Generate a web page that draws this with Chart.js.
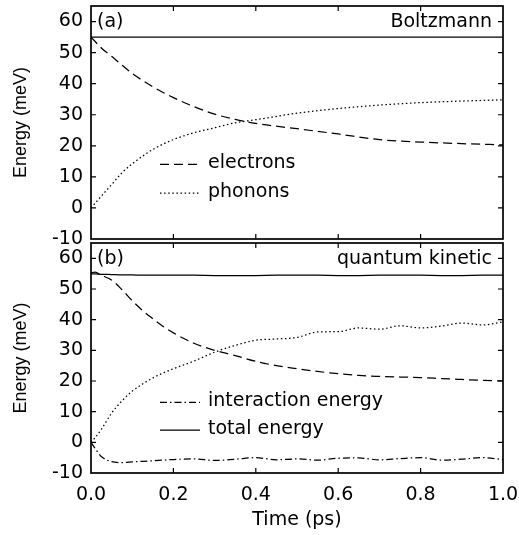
<!DOCTYPE html>
<html><head><meta charset="utf-8">
<script src="https://cdn.jsdelivr.net/npm/chart.js@4/dist/chart.umd.min.js"></script>
<style>
html,body{margin:0;padding:0;background:#fff;}
#wrap{position:relative;width:519px;height:535px;}
#wrap canvas{position:absolute;left:0;top:0;}
</style></head>
<body><div id="wrap"><canvas id="ca" width="519" height="535"></canvas><canvas id="cb" width="519" height="535"></canvas></div>
<script>
// Panel (a): Boltzmann
const timeA = [0, 0.025, 0.05, 0.075, 0.1, 0.15, 0.2, 0.25, 0.3, 0.35, 0.4, 0.5, 0.6, 0.7, 0.8, 0.9, 1.0];
const electronsA = [55, 51.5, 48.8, 46.0, 43.3, 39.0, 35.5, 32.6, 30.2, 28.5, 27.2, 25.5, 23.8, 22.0, 21.2, 20.7, 20.3];
const phononsA = [0, 3.8, 7.5, 11.3, 14.2, 18.8, 22.0, 24.2, 25.8, 27.4, 28.4, 30.5, 32.0, 33.1, 33.9, 34.4, 34.8];
const totalA = [55, 55, 55, 55, 55, 55, 55, 55, 55, 55, 55, 55, 55, 55, 55, 55, 55];

// Panel (b): quantum kinetic
const timeB = [0, 0.01, 0.025, 0.05, 0.075, 0.1, 0.125, 0.15, 0.175, 0.2, 0.25, 0.3, 0.35, 0.4, 0.45, 0.5, 0.55, 0.6, 0.65, 0.7, 0.75, 0.8, 0.85, 0.9, 0.95, 1.0];
const electronsB = [55.3, 55.5, 54.5, 52.9, 49.8, 46.2, 43.0, 40.3, 37.8, 35.7, 32.3, 30.0, 28.3, 26.4, 25.0, 24.0, 23.1, 22.4, 21.8, 21.5, 21.3, 21.1, 20.8, 20.5, 20.2, 20.0];
const phononsB = [0, 1.5, 4.2, 9.5, 13.5, 16.7, 19.0, 21.0, 22.6, 24.0, 26.5, 29.4, 31.6, 33.3, 33.7, 34.2, 36.0, 36.1, 37.3, 36.9, 38.0, 37.3, 37.9, 38.9, 38.3, 39.3];
const interactionB = [0, -2.0, -4.6, -6.3, -6.6, -6.4, -6.2, -6.0, -5.8, -5.6, -5.4, -5.9, -5.5, -5.0, -5.7, -5.4, -5.8, -5.2, -5.1, -5.7, -5.3, -5.0, -5.8, -5.5, -5.0, -5.6];
const totalB = [55.0, 54.9, 54.8, 54.7, 54.6, 54.6, 54.5, 54.5, 54.5, 54.5, 54.5, 54.4, 54.4, 54.4, 54.5, 54.5, 54.5, 54.4, 54.4, 54.5, 54.5, 54.5, 54.4, 54.4, 54.5, 54.5];

const xTicks = [0.0, 0.2, 0.4, 0.6, 0.8, 1.0];
const yTicks = [-10, 0, 10, 20, 30, 40, 50, 60];
const xTitle = 'Time (ps)';
const yTitle = 'Energy (meV)';

const FONT = '"DejaVu Sans", sans-serif';
const FONT_Y = '"Liberation Sans", Arial, sans-serif';
const FS = 19;
const pts = (xs, ys) => xs.map((x, i) => ({x: x, y: ys[i]}));
const DASH = [9, 5], DOT = [1.5, 2.6], DASHDOT = [7, 3, 1.5, 3];

function ds(label, xs, ys, dash) {
  return {label: label, data: pts(xs, ys), borderColor: '#000', borderWidth: 1.25,
    borderDash: dash, pointRadius: 0, fill: false, tension: 0.35, cubicInterpolationMode: 'monotone'};
}

function framePlugin(tl, tr, legend) {
  return {
    id: 'frame',
    afterDatasetsDraw(chart) {
      const {ctx, chartArea: a, scales} = chart;
      ctx.save();
      ctx.strokeStyle = '#000';
      ctx.setLineDash([]);
      ctx.lineWidth = 1.2;
      // inward ticks
      ctx.beginPath();
      xTicks.forEach(v => {
        const px = scales.x.getPixelForValue(v);
        if (px <= a.left + 1 || px >= a.right - 1) return;
        ctx.moveTo(px, a.top); ctx.lineTo(px, a.top + 5);
        ctx.moveTo(px, a.bottom); ctx.lineTo(px, a.bottom - 5);
      });
      yTicks.forEach(v => {
        const py = scales.y.getPixelForValue(v);
        if (py <= a.top + 1 || py >= a.bottom - 1) return;
        ctx.moveTo(a.left, py); ctx.lineTo(a.left + 5, py);
        ctx.moveTo(a.right, py); ctx.lineTo(a.right - 5, py);
      });
      ctx.stroke();
      ctx.lineWidth = 1.7;
      ctx.strokeRect(a.left, a.top, a.right - a.left, a.bottom - a.top);
      // panel labels
      ctx.fillStyle = '#000';
      ctx.font = FS + 'px ' + FONT;
      ctx.textBaseline = 'middle';
      ctx.textAlign = 'left';
      ctx.fillText(tl, a.left + 6, a.top + 16);
      ctx.textAlign = 'right';
      ctx.fillText(tr, a.right - 11, a.top + 16);
      // legend
      ctx.textAlign = 'left';
      legend.forEach(it => {
        const py = scales.y.getPixelForValue(it.y);
        ctx.beginPath();
        ctx.lineWidth = 1.25;
        ctx.setLineDash(it.dash);
        ctx.moveTo(a.left + 69, py); ctx.lineTo(a.left + 109, py);
        ctx.stroke();
        ctx.setLineDash([]);
        ctx.fillText(it.text, a.left + 117, py - 1);
      });
      ctx.restore();
    }
  };
}

function yScale() {
  return {
    min: -10, max: 65,
    afterFit: s => { s.width = 91; s.paddingTop = 0; s.paddingBottom = 0; },
    afterBuildTicks: s => { s.ticks = yTicks.map(v => ({value: v})); },
    grid: {display: false, drawTicks: false},
    border: {display: false},
    ticks: {color: '#000', font: {family: FONT, size: FS}, padding: 8},
    title: {display: true, text: yTitle, color: '#000', font: {family: FONT_Y, size: 18}, padding: {top: 10, bottom: 0}}
  };
}

Chart.defaults.animation = false;

new Chart(document.getElementById('ca'), {
  type: 'line',
  data: {datasets: [
    ds('electrons', timeA, electronsA, DASH),
    ds('phonons', timeA, phononsA, DOT),
    ds('total', timeA, totalA, [])
  ]},
  options: {
    responsive: false, animation: false,
    layout: {padding: {top: 6, right: 16, bottom: 296, left: 0}},
    plugins: {legend: {display: false}, tooltip: {enabled: false}},
    scales: {
      x: {type: 'linear', min: 0, max: 1, display: false},
      y: yScale()
    }
  },
  plugins: [framePlugin('(a)', 'Boltzmann', [
    {text: 'electrons', dash: DASH, y: 14.0},
    {text: 'phonons', dash: DOT, y: 4.8}
  ])]
});

new Chart(document.getElementById('cb'), {
  type: 'line',
  data: {datasets: [
    ds('electrons', timeB, electronsB, DASH),
    ds('phonons', timeB, phononsB, DOT),
    ds('interaction energy', timeB, interactionB, DASHDOT),
    ds('total energy', timeB, totalB, [])
  ]},
  options: {
    responsive: false, animation: false,
    layout: {padding: {top: 243, right: 16, bottom: 0, left: 0}},
    plugins: {legend: {display: false}, tooltip: {enabled: false}},
    scales: {
      x: {
        type: 'linear', min: 0, max: 1,
        afterFit: s => { s.height = 62; s.paddingLeft = 0; s.paddingRight = 0; },
        afterBuildTicks: s => { s.ticks = xTicks.map(v => ({value: v})); },
        grid: {display: false, drawTicks: false},
        border: {display: false},
        ticks: {color: '#000', font: {family: FONT, size: FS}, padding: 11, callback: v => v.toFixed(1), maxRotation: 0},
        title: {display: true, text: xTitle, color: '#000', font: {family: FONT, size: FS}, padding: {top: 0, bottom: 4}}
      },
      y: yScale()
    }
  },
  plugins: [framePlugin('(b)', 'quantum kinetic', [
    {text: 'interaction energy', dash: DASHDOT, y: 13.0},
    {text: 'total energy', dash: [], y: 4.0}
  ])]
});
</script>
</body></html>
